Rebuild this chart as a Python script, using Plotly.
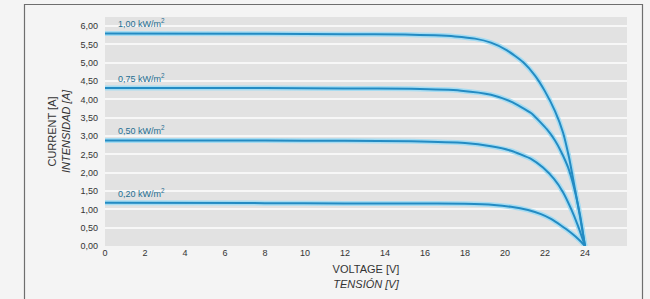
import plotly.graph_objects as go

# ---- data ----
irradiance_labels = ["1,00 kW/m<sup>2</sup>", "0,75 kW/m<sup>2</sup>",
                     "0,50 kW/m<sup>2</sup>", "0,20 kW/m<sup>2</sup>"]

v_100 = [0, 8, 12, 15, 16.5, 17.5, 18.5, 19.3, 20.1, 20.9, 21.5, 22.0, 22.5, 22.9, 23.2, 23.5, 23.75, 24]
i_100 = [5.80, 5.79, 5.78, 5.77, 5.75, 5.72, 5.66, 5.55, 5.34, 5.02, 4.65, 4.22, 3.68, 3.10, 2.42, 1.55, 0.80, 0.0]

v_075 = [0, 8, 12, 15.3, 17.8, 19.3, 20.3, 21.3, 22.1, 22.5, 22.8, 23.15, 23.45, 23.75, 24]
i_075 = [4.31, 4.31, 4.30, 4.29, 4.24, 4.13, 3.94, 3.63, 3.18, 2.88, 2.58, 2.15, 1.60, 0.85, 0.0]

v_050 = [0, 8, 12, 15.3, 18.0, 19.3, 20.3, 21.3, 21.9, 22.45, 22.9, 23.3, 23.65, 24]
i_050 = [2.88, 2.88, 2.87, 2.86, 2.81, 2.72, 2.60, 2.38, 2.14, 1.83, 1.47, 1.02, 0.55, 0.0]

v_020 = [0, 8, 12, 15.3, 18.0, 19.45, 20.3, 21.15, 21.8, 22.3, 22.8, 23.3, 23.7, 24]
i_020 = [1.18, 1.17, 1.16, 1.16, 1.15, 1.12, 1.07, 0.98, 0.87, 0.74, 0.56, 0.36, 0.17, 0.0]

x_ticks = list(range(0, 25, 2))
y_ticks = [k * 0.5 for k in range(13)]
y_tick_text = [f"{v:.2f}".replace(".", ",") for v in y_ticks]

series = [(v_100, i_100), (v_075, i_075), (v_050, i_050), (v_020, i_020)]

fig = go.Figure()
for (vx, iy) in series:
    fig.add_trace(go.Scatter(x=vx, y=iy, mode="lines",
                             line=dict(color="#a6dcf2", width=5, shape="spline", smoothing=0.5),
                             hoverinfo="skip", showlegend=False))
for (vx, iy) in series:
    fig.add_trace(go.Scatter(x=vx, y=iy, mode="lines",
                             line=dict(color="#238bc3", width=2, shape="spline", smoothing=0.5),
                             showlegend=False))

for lab, (vx, iy) in zip(irradiance_labels, series):
    fig.add_annotation(x=0.55, y=iy[0] + 0.06, text=lab, showarrow=False,
                       xanchor="left", yanchor="bottom",
                       font=dict(family="Liberation Sans, Arial, sans-serif", size=9, color="#1f6f92"))

W, H = 650, 299
ml, mr, mt, mb = 105, 23, 17, 53
pw, ph = W - ml - mr, H - mt - mb
def px(x):
    return (x - ml) / pw
def py(y):
    return (H - mb - y) / ph

# outer frame (left, top, right)
fig.add_shape(type="path", xref="paper", yref="paper",
              path=f"M {px(24.5)} {py(305)} L {px(24.5)} {py(4.5)} L {px(642.5)} {py(4.5)} L {px(642.5)} {py(305)}",
              line=dict(color="#6e6e6e", width=1.2))

fig.update_layout(
    width=W, height=H,
    margin=dict(l=ml, r=mr, t=mt, b=mb, autoexpand=False),
    paper_bgcolor="#f4f4f4",
    plot_bgcolor="#e2e2e2",
    font=dict(family="Liberation Sans, Arial, sans-serif", size=9, color="#333333"),
    xaxis=dict(range=[0, 26.1], tickvals=x_ticks, ticktext=[str(t) for t in x_ticks],
               showgrid=False, zeroline=False, showline=False, ticks="", automargin=False,
               tickfont=dict(size=9, color="#333333"),
               title=dict(text="VOLTAGE [V]<br><i>TENSIÓN [V]</i>", standoff=8,
                          font=dict(size=11, color="#333333"))),
    yaxis=dict(range=[0, 6.25], tickvals=y_ticks, ticktext=y_tick_text,
               showgrid=True, gridcolor="#f7f7f7", gridwidth=2, zeroline=False,
               showline=False, ticks="", ticklabelstandoff=6, automargin=False,
               tickfont=dict(size=9, color="#333333"),
               title=dict(text="CURRENT [A]<br><i>INTENSIDAD [A]</i>", standoff=7,
                          font=dict(size=11, color="#333333"))),
)

fig.write_html("out.html", config={"displayModeBar": False},
               post_script="document.body.style.margin='0';document.body.style.background='#f4f4f4';")
